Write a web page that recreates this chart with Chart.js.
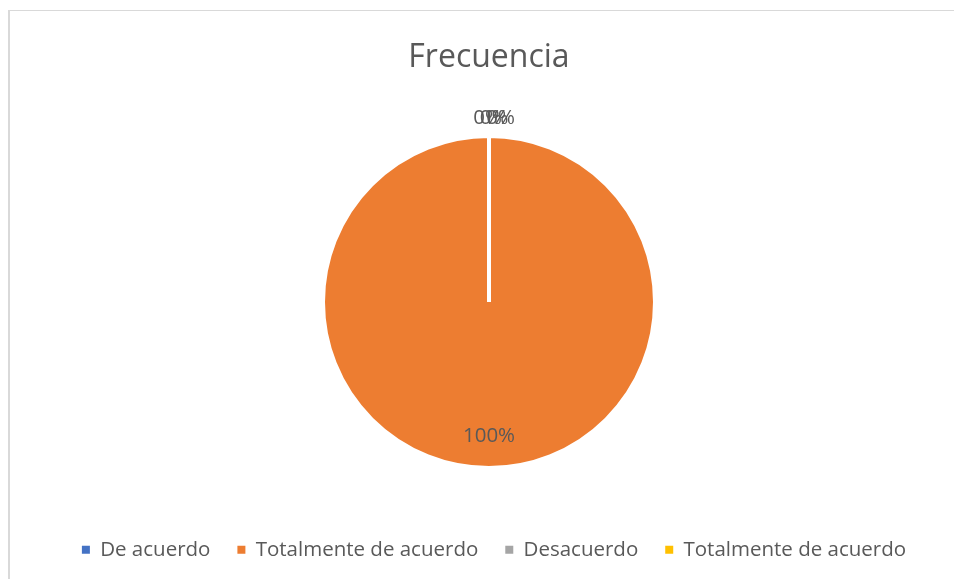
<!DOCTYPE html>
<html>
<head>
<meta charset="utf-8">
<script src="https://cdn.jsdelivr.net/npm/chart.js@4"></script>
<style>
  html, body { margin: 0; padding: 0; background: #fff; overflow: hidden; }
  #frame {
    position: absolute; left: 8px; top: 10px; width: 1000px; height: 700px;
    border-left: 2px solid #d9d9d9; border-top: 1px solid #d9d9d9;
  }
  #chart { position: absolute; left: 0; top: 0; }
</style>
</head>
<body>
<div id="frame"></div>
<canvas id="chart" width="954" height="579"></canvas>
<script>
const categories = ['De acuerdo', 'Totalmente de acuerdo', 'Desacuerdo', 'Totalmente de acuerdo'];
const frecuencia = [0, 100, 0, 0];
const sliceColors = ['#4472C4', '#ED7D31', '#A5A5A5', '#FFC000'];

const TEXT = '#595959';
const FONT = "'Open Sans', sans-serif";

// percentage labels, Excel "best fit" style: zero slices outside at the top, big slice inside
const pctLabels = {
  id: 'pctLabels',
  afterLayout(chart) {
    // legend sits a little right of and above where chart.js puts it
    chart.legend.left += 5;
    chart.legend.right += 5;
    chart.legend.top -= 9;
    chart.legend.bottom -= 9;
  },
  afterDatasetsDraw(chart) {
    const ctx = chart.ctx;
    const meta = chart.getDatasetMeta(0);
    const total = frecuencia.reduce((a, b) => a + b, 0);
    let zeroCount = 0;
    ctx.save();
    ctx.font = '20.5px ' + FONT;
    ctx.fillStyle = TEXT;
    ctx.textAlign = 'center';
    ctx.textBaseline = 'middle';
    meta.data.forEach((arc, i) => {
      const v = frecuencia[i];
      const pct = Math.round(v / total * 100) + '%';
      const p = arc.getProps(['x', 'y', 'startAngle', 'endAngle', 'outerRadius'], true);
      if (v === 0) {
        const a = p.startAngle;
        const r = p.outerRadius + 17.5;
        ctx.fillText(pct, p.x + Math.cos(a) * r - 1.5 + zeroCount * 6.5, p.y + Math.sin(a) * r);
        zeroCount++;
      } else {
        const a = (p.startAngle + p.endAngle) / 2;
        const r = p.outerRadius * 0.81;
        ctx.fillText(pct, p.x + Math.cos(a) * r, p.y + Math.sin(a) * r);
      }
    });
    ctx.restore();
  }
};

new Chart(document.getElementById('chart'), {
  type: 'pie',
  data: {
    labels: categories,
    datasets: [{
      data: frecuencia,
      backgroundColor: sliceColors,
      borderColor: '#ffffff',
      borderWidth: 4,
      radius: 166,
    }],
  },
  options: {
    responsive: false,
    animation: false,
    layout: { padding: { left: 24, right: 0, top: 0, bottom: 0 } },
    plugins: {
      title: {
        display: true,
        text: 'Frecuencia',
        color: TEXT,
        font: { family: FONT, size: 32, weight: 'normal', lineHeight: 1.2 },
        padding: { top: 39, bottom: 5 },
      },
      legend: {
        position: 'bottom',
        labels: {
          color: TEXT,
          font: { family: FONT, size: 20.5 },
          boxWidth: 8,
          boxHeight: 8,
          padding: 27,
          generateLabels(chart) {
            const items = Chart.overrides.pie.plugins.legend.labels.generateLabels(chart);
            return items.map(it => Object.assign(it, { lineWidth: 0, strokeStyle: 'rgba(0,0,0,0)' }));
          },
        },
      },
      tooltip: { enabled: false },
    },
  },
  plugins: [pctLabels],
});
</script>
</body>
</html>
